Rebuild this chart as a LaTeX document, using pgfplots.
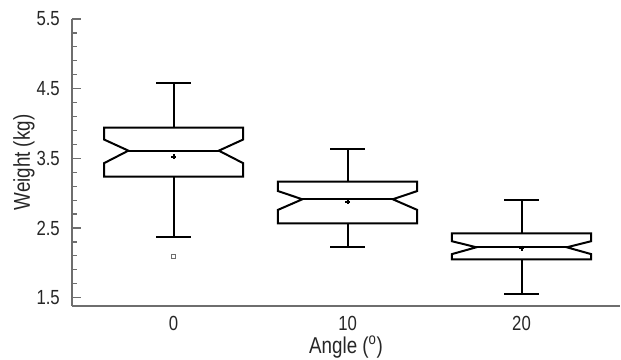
\documentclass[border=0pt]{standalone}
\usepackage{fontspec}
\setmainfont{Liberation Sans}[FakeStretch=0.82]
\usepackage{pgfplots}
\usepgfplotslibrary{statistics}
\pgfplotsset{compat=1.18}

\definecolor{axisgray}{HTML}{6E6E6E}
\definecolor{textgray}{HTML}{262626}

% Notched boxes: the notch runs from "notch low" to "notch high" and
% reaches "notch depth" (fraction of the box width) into the box.
\pgfplotsset{
  boxplot/notch low/.initial=0,
  boxplot/notch high/.initial=0,
  boxplot/notch depth/.initial=0.175,
  boxplot/draw/box/.code={%
    \pgfmathsetmacro\nd{\boxplotvalue{notch depth}}%
    \pgfmathsetmacro\ne{1-\boxplotvalue{notch depth}}%
    \draw[/pgfplots/boxplot/every box/.try]
      (boxplot box cs:\boxplotvalue{lower quartile},0) --
      (boxplot box cs:\boxplotvalue{notch low},0) --
      (boxplot box cs:\boxplotvalue{median},\nd) --
      (boxplot box cs:\boxplotvalue{notch high},0) --
      (boxplot box cs:\boxplotvalue{upper quartile},0) --
      (boxplot box cs:\boxplotvalue{upper quartile},1) --
      (boxplot box cs:\boxplotvalue{notch high},1) --
      (boxplot box cs:\boxplotvalue{median},\ne) --
      (boxplot box cs:\boxplotvalue{notch low},1) --
      (boxplot box cs:\boxplotvalue{lower quartile},1) -- cycle;
  },
  boxplot/draw/median/.code={%
    \pgfmathsetmacro\nd{\boxplotvalue{notch depth}}%
    \pgfmathsetmacro\ne{1-\boxplotvalue{notch depth}}%
    \draw[/pgfplots/boxplot/every median/.try]
      (boxplot box cs:\boxplotvalue{median},\nd) --
      (boxplot box cs:\boxplotvalue{median},\ne);
  },
}

\begin{document}
\begin{tikzpicture}
\begin{axis}[
  scale only axis,
  width=548bp, height=287bp,
  xmin=-0.584, xmax=2.566,
  ymin=1.38, ymax=5.5,
  axis lines*=left,
  axis line style={axisgray, line width=1.4bp},
  xtick={0,1,2}, xticklabels={0,10,20},
  xtick style={draw=none},
  ytick={1.5,2.5,3.5,4.5,5.5},
  minor y tick num=4,
  ytick style={axisgray, line width=1.2bp},
  tick align=inside,
  major tick length=9bp, minor tick length=5bp,
  /pgf/number format/assume math mode=true,
  /pgf/number format/fixed,
  /pgf/number format/precision=1,
  yticklabel style={anchor=east, inner sep=0pt, xshift=-12bp,
    font=\fontsize{20.5}{20.5}\selectfont, text=textgray},
  xticklabel style={anchor=north, inner sep=0pt, yshift=-10bp,
    font=\fontsize{20.5}{20.5}\selectfont, text=textgray},
  xlabel={Angle (\textsuperscript{o})},
  ylabel={Weight (kg)},
  every axis x label/.style={at={(axis description cs:0.5,-0.143)}, anchor=center,
    font=\fontsize{23}{23}\selectfont, text=textgray},
  every axis y label/.style={at={(axis description cs:-0.0875,0.5)}, rotate=90, anchor=center,
    font=\fontsize{23}{23}\selectfont, text=textgray},
  boxplot/draw direction=y,
  boxplot/box extend=0.8,
  boxplot/whisker extend=0.2,
  boxplot/every average/.style={/tikz/mark=+, /tikz/mark size=2.5bp, /tikz/mark options={black, line width=1.4bp}},
]

% angle 0
\addplot[black, line width=2bp, mark=square, mark size=1.7bp,
  mark options={axisgray, line width=0.8bp},
  boxplot prepared={draw position=0,
    lower whisker=2.37, lower quartile=3.236, median=3.61,
    upper quartile=3.94, upper whisker=4.585, average=3.52,
    notch low=3.43, notch high=3.77}]
  coordinates {(0,2.09)};

% angle 10
\addplot[black, line width=2bp,
  boxplot prepared={draw position=1,
    lower whisker=2.232, lower quartile=2.567, median=2.912,
    upper quartile=3.164, upper whisker=3.633, average=2.877,
    notch low=2.76, notch high=3.03}]
  coordinates {};

% angle 20
\addplot[black, line width=2bp,
  boxplot prepared={draw position=2,
    lower whisker=1.549, lower quartile=2.051, median=2.223,
    upper quartile=2.424, upper whisker=2.902, average=2.21,
    notch low=2.125, notch high=2.31}]
  coordinates {};

\coordinate (A) at (rel axis cs:0,0);
\coordinate (B) at (rel axis cs:1,1);
\end{axis}
\pgfresetboundingbox
\path ([shift={(-72bp,-54bp)}]A) rectangle ([shift={(1bp,19bp)}]B);
\end{tikzpicture}
\end{document}
